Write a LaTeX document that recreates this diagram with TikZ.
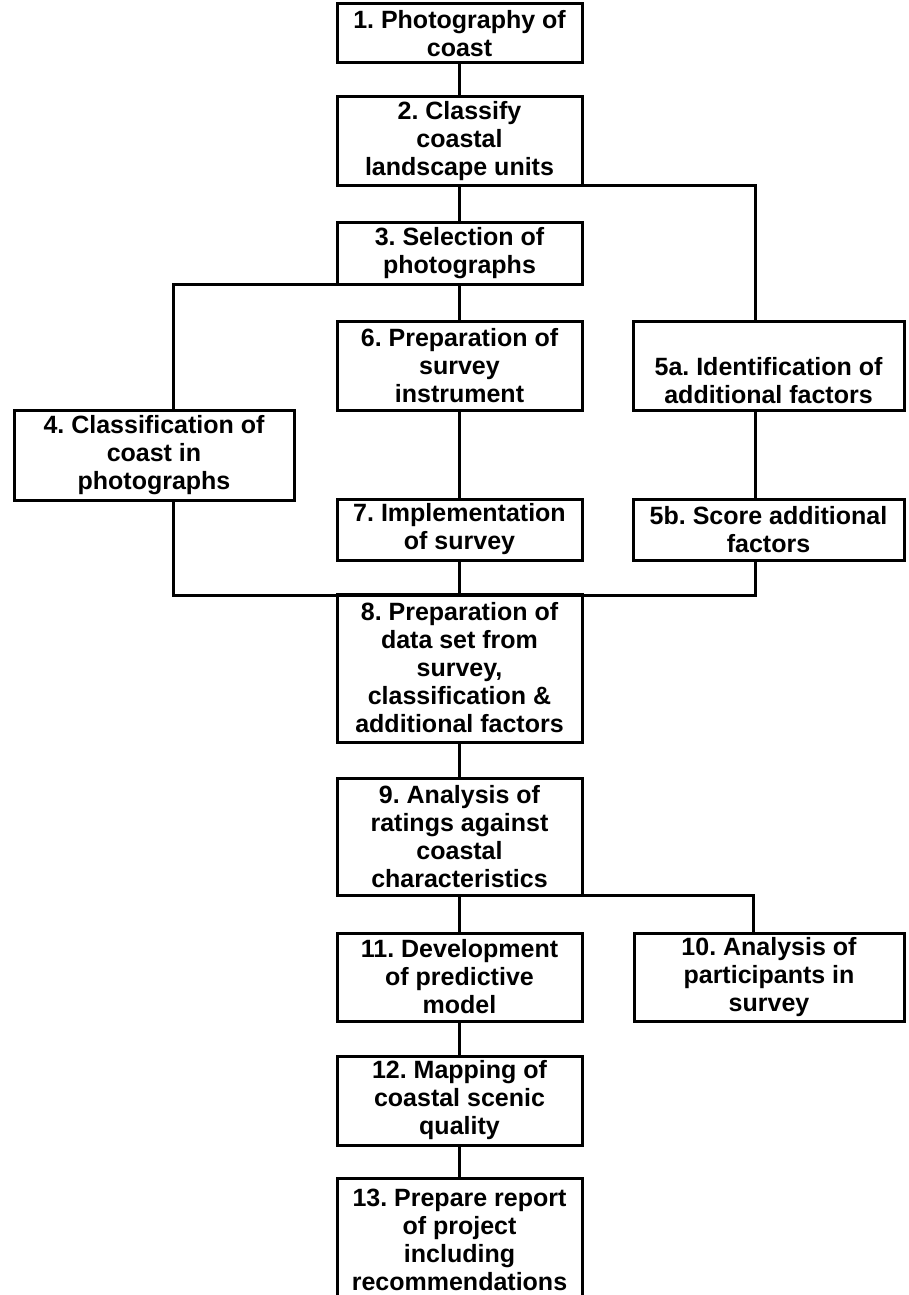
\documentclass[tikz,border=0pt]{standalone}
\usepackage{fontspec}
\setmainfont{Liberation Sans}
\begin{document}
\frenchspacing
\begin{tikzpicture}[x=1pt,y=-1pt,
  box/.style={draw, line width=3pt, align=center, inner sep=0pt, outer sep=0pt,
    font=\fontsize{25}{28}\selectfont\bfseries},
  mid/.style={box, minimum width=245pt},
  side/.style={box, minimum width=271pt},
  link/.style={line width=3pt}]
\useasboundingbox (0,0) rectangle (908,1295);
\fill[white] (0,0) rectangle (908,1295);
% main column
\node[mid, minimum height=59pt] (b1) at (459.5,33.5) {1. Photography of\\coast};
\node[mid, minimum height=88pt] (b2) at (459.5,141) {2. Classify\\coastal\\landscape units};
\node[mid, minimum height=62pt] (b3) at (459.5,253) {3. Selection of\\photographs};
\node[mid, minimum height=89pt] (b6) at (459.5,365.5) {6. Preparation of\\survey\\instrument};
\node[mid, minimum height=61pt] (b7) at (459.5,529.5) {7. Implementation\\of survey};
\node[mid, minimum height=148pt] (b8) at (459.5,668) {8. Preparation of\\data set from\\survey,\\classification \&\\additional factors};
\node[mid, minimum height=117pt] (b9) at (459.5,836.5) {9. Analysis of\\ratings against\\coastal\\characteristics};
\node[mid, minimum height=88pt] (b11) at (459.5,977) {11. Development\\of predictive\\model};
\node[mid, minimum height=89pt] (b12) at (459.5,1100.5) {12. Mapping of\\coastal scenic\\quality};
\node[mid, minimum height=124pt] (b13) at (459.5,1240) {13. Prepare report\\of project\\including\\recommendations};
% side boxes
\node[box, minimum width=280pt, minimum height=90pt] (b4) at (154,455) {4. Classification of\\coast in\\photographs};
\node[side, minimum height=89pt] (b5a) at (768.5,365.5) {\strut\\5a. Identification of\\additional factors};
\node[side, minimum height=61pt] (b5b) at (768.5,529.5) {5b. Score additional\\factors};
\node[box, minimum width=270pt, minimum height=88pt] (b10) at (769,977) {10. Analysis of\\participants in\\survey};
% junction guides
\coordinate (jR) at (755,185);
\coordinate (jL) at (173,284);
\coordinate (kL) at (173,595);
\coordinate (kR) at (755,595);
\coordinate (m) at (753,895);
% connectors
\draw[link] (b1) -- (b2);
\draw[link] (b2) -- (b3);
\draw[link] (b3) -- (b6);
\draw[link] (b6) -- (b7);
\draw[link] (b7) -- (b8);
\draw[link] (b8) -- (b9);
\draw[link] (b9) -- (b11);
\draw[link] (b11) -- (b12);
\draw[link] (b12) -- (b13);
\draw[link] (b2.south east) -| (jR |- b5a.north);
\draw[link] (jR |- b5a.south) -- (jR |- b5b.north);
\draw[link] (b3.south west) -| (jL |- b4.north);
\draw[link] (jL |- b4.south) -- (kL) -- (kR) -- (jR |- b5b.south);
\draw[link] (b9.south east) -| (m |- b10.north);
\end{tikzpicture}
\end{document}
